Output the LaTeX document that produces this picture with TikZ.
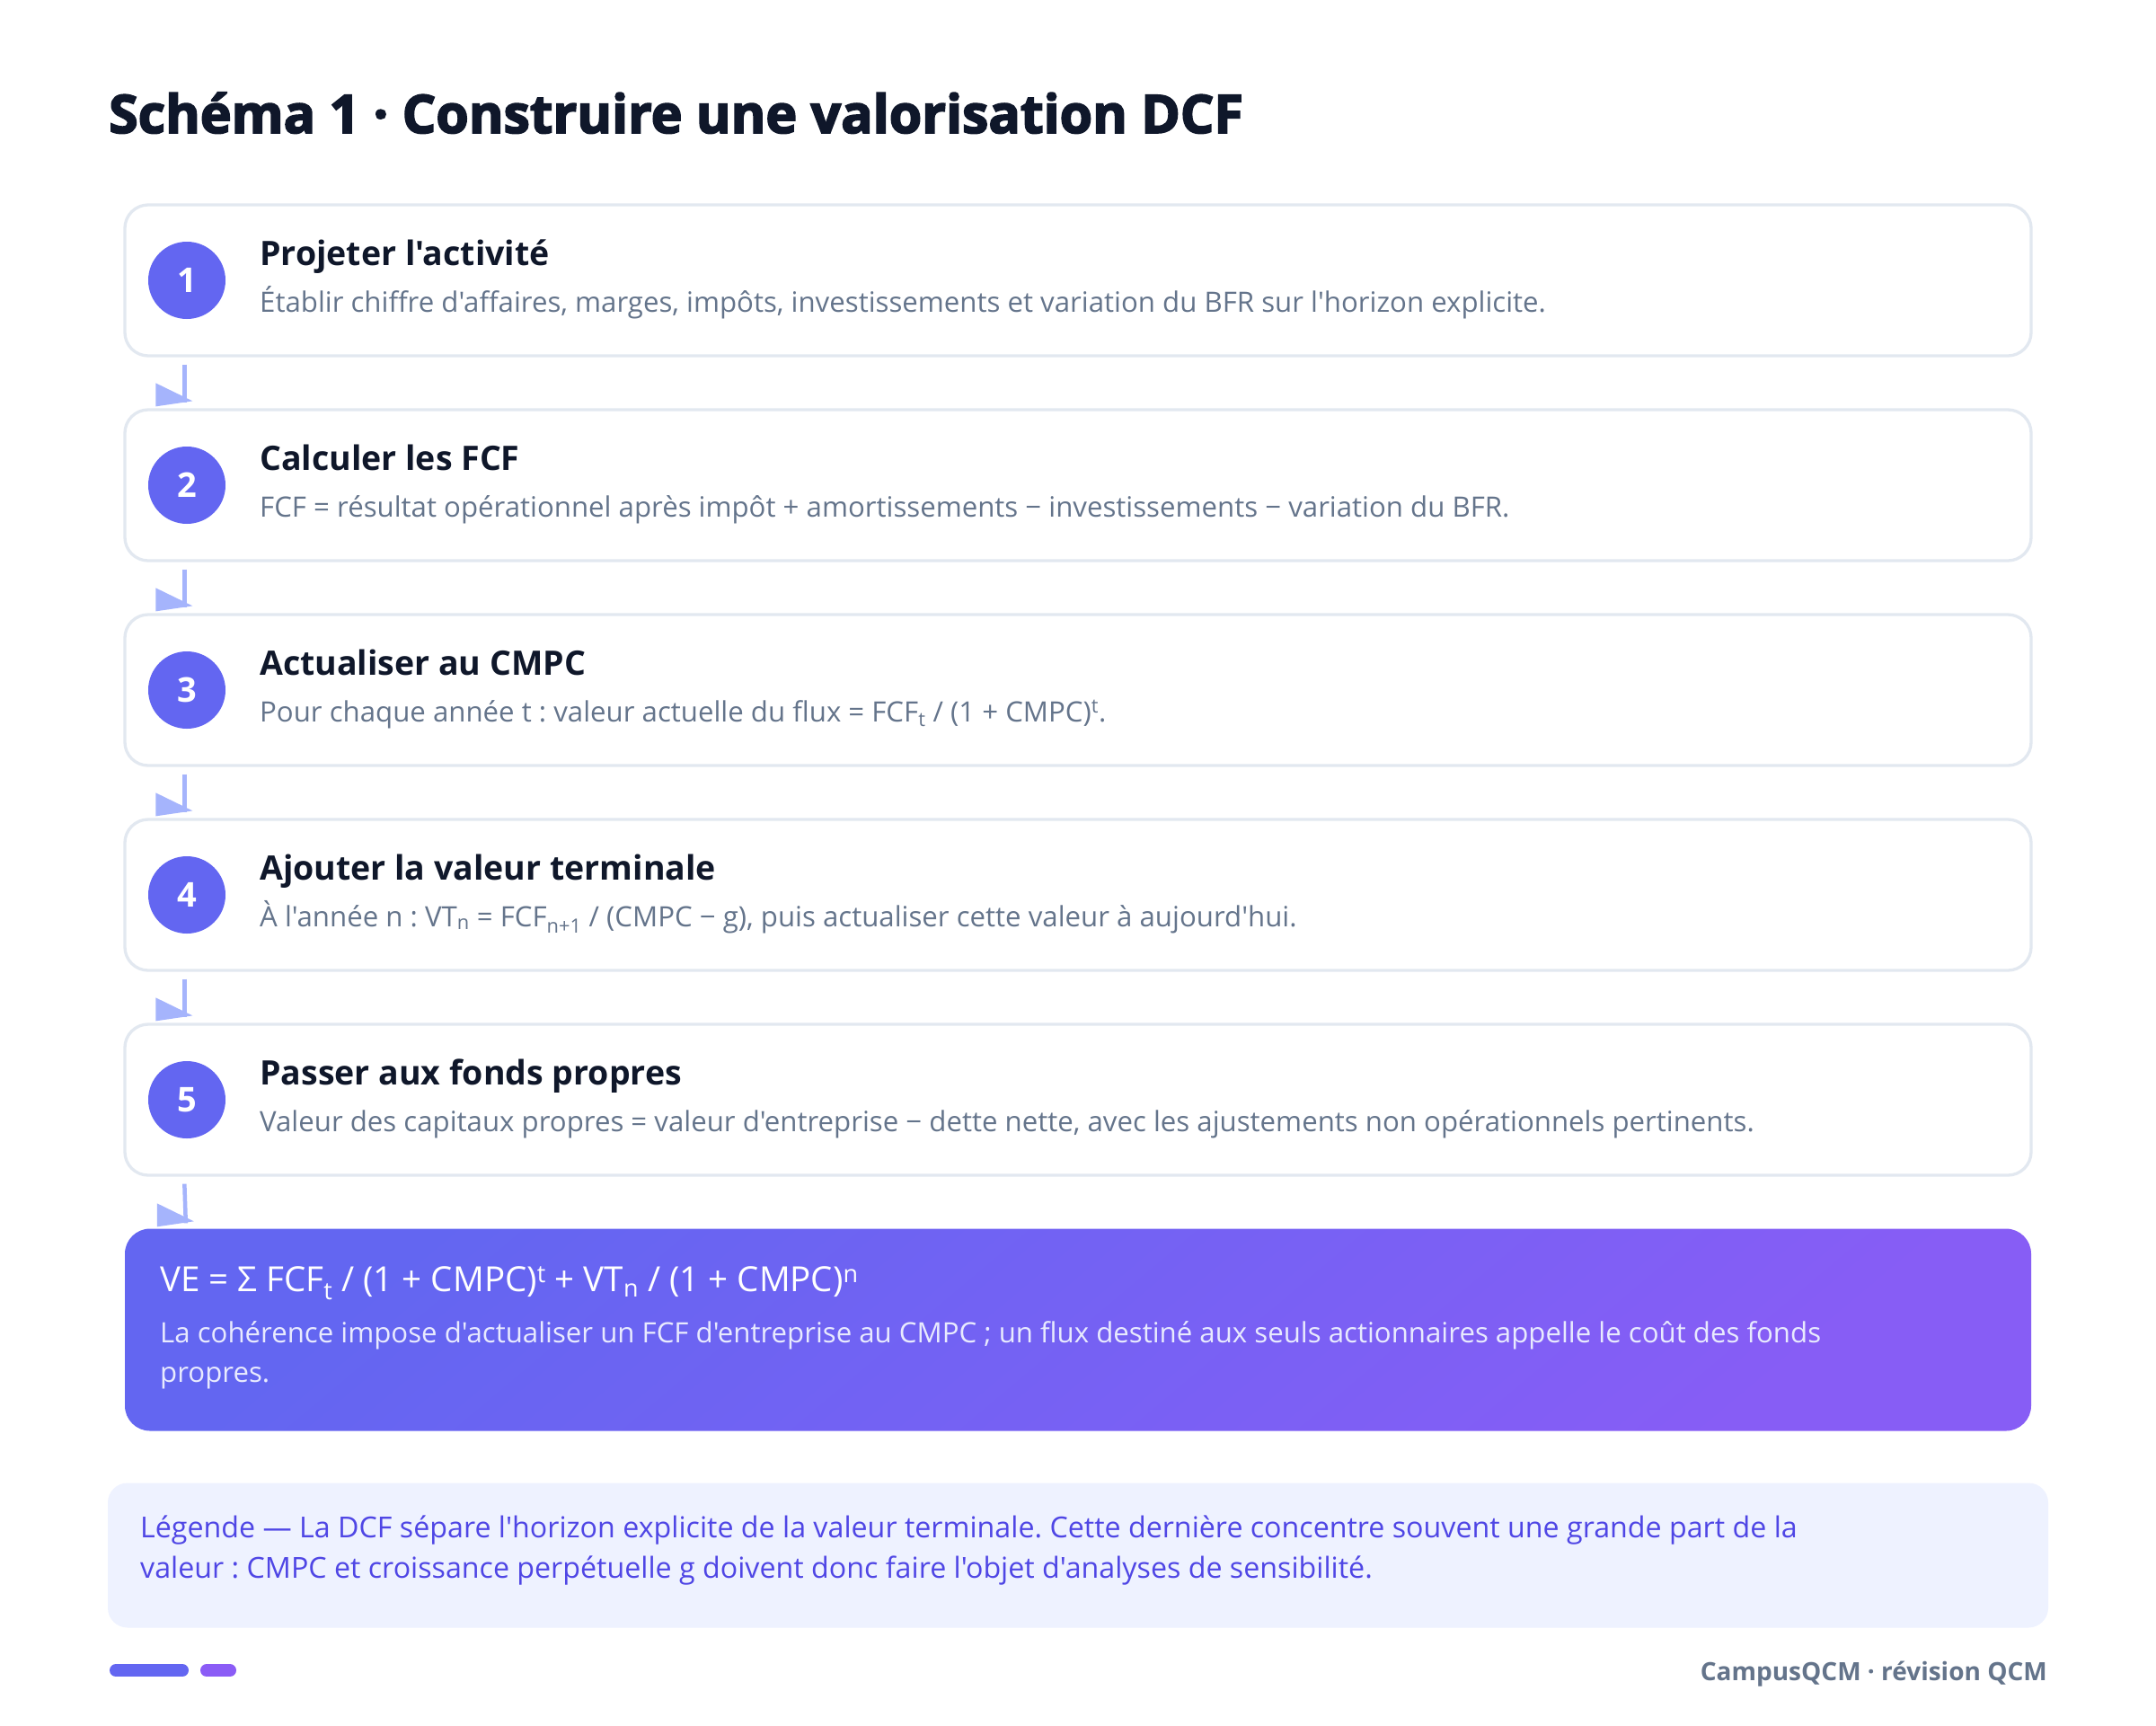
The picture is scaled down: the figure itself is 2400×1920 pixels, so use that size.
\documentclass[tikz,border=0pt]{standalone}
\usepackage{fontspec}
\setmainfont{Open Sans}[Ligatures=TeXOff]
\newfontfamily\headfont{Open Sans}[Ligatures=TeXOff, BoldFeatures={FakeBold=3}]
\frenchspacing

\definecolor{ink}{HTML}{0F172A}
\definecolor{muted}{HTML}{64748B}
\definecolor{cardline}{HTML}{E2E8F0}
\definecolor{accent}{HTML}{6366F1}
\definecolor{violet}{HTML}{8B5CF6}
\definecolor{flowc}{HTML}{A5B4FC}
\definecolor{legendbg}{HTML}{EEF2FF}
\definecolor{legendink}{HTML}{4F46E5}
\definecolor{ghost}{HTML}{E8EAFE}

\begin{document}
\begin{tikzpicture}[%
        x = 1pt, y = -1pt,
        card/.style = {draw=cardline, line width=3.3pt, fill=white, rounded corners=26pt,
                       minimum width=2122pt, minimum height=168pt, inner sep=0pt},
        badge/.style = {circle, fill=accent, minimum size=86pt, inner sep=0pt,
                        text=white, font=\fontsize{38}{42}\selectfont\bfseries},
        head/.style = {anchor=base west, inner sep=0pt, text=ink,
                       font=\fontsize{37.5}{44}\selectfont\bfseries},
        note/.style = {anchor=base west, inner sep=0pt, text=muted,
                       font=\fontsize{31.2}{36}\selectfont},
        flow/.style = {draw=flowc, line width=4.5pt},
        tip/.style = {fill=flowc}
    ]
      \fill [white] (0,0) rectangle (2400,1920);
      \useasboundingbox (0,0) rectangle (2400,1920);

      \node [anchor=base west, inner sep=0pt, text=ink,
             font=\headfont\bfseries\fontsize{59}{64}\selectfont] (title) at (121,148)
            {Schéma 1 · Construire une valorisation DCF};

      \node [card] (s1) at (1200,312) {};
      \node [badge] (n1) at (208,312) {1};
      \node [head] (h1) at (289,295) {Projeter l'activité};
      \node [note] (d1) at (289,347) {Établir chiffre d'affaires, marges, impôts, investissements et variation du BFR sur l'horizon explicite.};

      \node [card] (s2) at (1200,540) {};
      \node [badge] (n2) at (208,540) {2};
      \node [head] (h2) at (289,523) {Calculer les FCF};
      \node [note] (d2) at (289,575) {FCF = résultat opérationnel après impôt + amortissements − investissements − variation du BFR.};

      \node [card] (s3) at (1200,768) {};
      \node [badge] (n3) at (208,768) {3};
      \node [head] (h3) at (289,751) {Actualiser au CMPC};
      \node [note] (d3) at (289,803) {Pour chaque année t : valeur actuelle du flux = FCF\textsubscript{t} / (1 + CMPC)\textsuperscript{t}.};

      \node [card] (s4) at (1200,996) {};
      \node [badge] (n4) at (208,996) {4};
      \node [head] (h4) at (289,979) {Ajouter la valeur terminale};
      \node [note] (d4) at (289,1031) {À l'année n : VT\textsubscript{n} = FCF\textsubscript{n+1} / (CMPC − g), puis actualiser cette valeur à aujourd'hui.};

      \node [card] (s5) at (1200,1224) {};
      \node [badge] (n5) at (208,1224) {5};
      \node [head] (h5) at (289,1207) {Passer aux fonds propres};
      \node [note] (d5) at (289,1259) {Valeur des capitaux propres = valeur d'entreprise − dette nette, avec les ajustements non opérationnels pertinents.};

      \node [rounded corners=28pt, minimum width=2122pt, minimum height=225pt, inner sep=0pt,
             left color=accent, right color=violet!90!accent, shading angle=40] (vf) at (1200,1480) {};
      \node [anchor=base west, inner sep=0pt, text=white, font=\fontsize{38.5}{44}\selectfont] (vf-eq) at (178,1437)
            {VE = Σ FCF\textsubscript{t} / (1 + CMPC)\textsuperscript{t} + VT\textsubscript{n} / (1 + CMPC)\textsuperscript{n}};
      \node [anchor=base west, inner sep=0pt, text=ghost, font=\fontsize{31.2}{36}\selectfont] (vf-l1) at (178,1494)
            {La cohérence impose d'actualiser un FCF d'entreprise au CMPC ; un flux destiné aux seuls actionnaires appelle le coût des fonds};
      \node [anchor=base west, inner sep=0pt, text=ghost, font=\fontsize{31.2}{36}\selectfont] (vf-l2) at (178,1538)
            {propres.};

      \draw [flow] ([shift={(68,8)}]s1.south west) -- ([shift={(68,-6)}]s2.north west);
      \fill [tip] ([shift={(36,-28)}]s2.north west) -- ([shift={(36,-2)}]s2.north west) -- ([shift={(77,-8)}]s2.north west) -- cycle;
      \draw [flow] ([shift={(68,8)}]s2.south west) -- ([shift={(68,-6)}]s3.north west);
      \fill [tip] ([shift={(36,-28)}]s3.north west) -- ([shift={(36,-2)}]s3.north west) -- ([shift={(77,-8)}]s3.north west) -- cycle;
      \draw [flow] ([shift={(68,8)}]s3.south west) -- ([shift={(68,-6)}]s4.north west);
      \fill [tip] ([shift={(36,-28)}]s4.north west) -- ([shift={(36,-2)}]s4.north west) -- ([shift={(77,-8)}]s4.north west) -- cycle;
      \draw [flow] ([shift={(68,8)}]s4.south west) -- ([shift={(68,-6)}]s5.north west);
      \fill [tip] ([shift={(36,-28)}]s5.north west) -- ([shift={(36,-2)}]s5.north west) -- ([shift={(77,-8)}]s5.north west) -- cycle;
      \draw [flow] ([shift={(68,8)}]s5.south west) -- ([shift={(68,-6)}]vf.north west);
      \fill [tip] ([shift={(36,-28)}]vf.north west) -- ([shift={(36,-2)}]vf.north west) -- ([shift={(77,-8)}]vf.north west) -- cycle;

      \node [fill=legendbg, rounded corners=22pt,
             minimum width=2160pt, minimum height=161pt, inner sep=0pt] (lg) at (1200,1731) {};
      \node [anchor=base west, inner sep=0pt, text=legendink, font=\fontsize{32.2}{38}\selectfont] (lg-l1) at (156,1711)
            {Légende — La DCF sépare l'horizon explicite de la valeur terminale. Cette dernière concentre souvent une grande part de la};
      \node [anchor=base west, inner sep=0pt, text=legendink, font=\fontsize{32.2}{38}\selectfont] (lg-l2) at (156,1756)
            {valeur : CMPC et croissance perpétuelle g doivent donc faire l'objet d'analyses de sensibilité.};

      \draw [accent, line width=14pt, line cap=round] (129,1859) -- (203,1859);
      \draw [violet, line width=14pt, line cap=round] (230,1859) -- (256,1859);
      \node [anchor=base east, inner sep=0pt, text=muted, font=\fontsize{28}{32}\selectfont\bfseries] (brand) at (2279,1870)
            {CampusQCM · révision QCM};
    \end{tikzpicture}
\end{document}
